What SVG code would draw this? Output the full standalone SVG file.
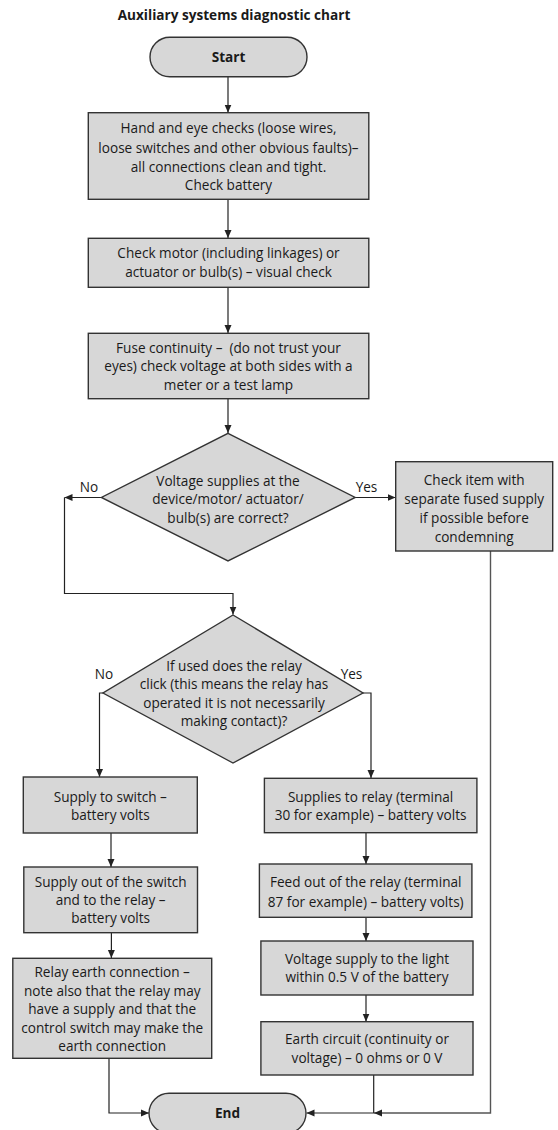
<svg xmlns="http://www.w3.org/2000/svg" width="558" height="1130" viewBox="0 0 558 1130">
<style>
text{font-family:"Open Sans","Noto Sans","Liberation Sans",sans-serif;font-size:13.6px;fill:#1a1a1a;text-anchor:middle}
.b{font-weight:bold}
.box{fill:#d7d7d7;stroke:#333;stroke-width:1.4}
.c{fill:none;stroke:#222;stroke-width:1.2}
.g{fill:none;stroke:#555;stroke-width:1.4}
</style>
<defs>
<marker id="ah" markerWidth="8" markerHeight="8" refX="8" refY="4" orient="auto" markerUnits="userSpaceOnUse"><path d="M0,0.5 L8,4 L0,7.5 z" fill="#222"/></marker>
</defs>
<text class="b" x="234" y="20">Auxiliary systems diagnostic chart</text>

<g id="connectors">
<path class="c" d="M228,77 V112.5" marker-end="url(#ah)"/>
<path class="c" d="M228,199 V238" marker-end="url(#ah)"/>
<path class="c" d="M228,287 V333" marker-end="url(#ah)"/>
<path class="c" d="M228,399 V433" marker-end="url(#ah)"/>
<path class="c" d="M101.5,497.5 H64.5" marker-end="url(#ah)"/>
<path class="c" d="M64.5,497.5 V593.5 H233 V614.5" marker-end="url(#ah)"/>
<path class="c" d="M355,497.5 H395.5" marker-end="url(#ah)"/>
<path class="g" d="M490.5,551 V1113 H374" marker-end="url(#ah)"/>
<path class="c" d="M374,1113 H306.5" marker-end="url(#ah)"/>
<path class="c" d="M373.7,1075 V1113"/>
<path class="c" d="M103,693 H99.5 V777" marker-end="url(#ah)"/>
<path class="c" d="M363,693 H371 V778" marker-end="url(#ah)"/>
<path class="c" d="M111,833 V867" marker-end="url(#ah)"/>
<path class="c" d="M111.4,933 V958" marker-end="url(#ah)"/>
<path class="c" d="M366,833 V864" marker-end="url(#ah)"/>
<path class="c" d="M366,917 V941" marker-end="url(#ah)"/>
<path class="c" d="M366,995 V1021.5" marker-end="url(#ah)"/>
<path class="c" d="M109,1058 V1113 H149" marker-end="url(#ah)"/>
</g>

<g id="start">
<rect class="box" x="150" y="37.3" width="157" height="39.5" rx="19.75"/>
<text class="b" x="228.5" y="61.5">Start</text>
</g>

<g id="n1">
<rect class="box" x="88.3" y="112.7" width="280.5" height="86.6"/>
<text x="228.5" y="133">Hand and eye checks (loose wires,</text>
<text x="228.5" y="152.5">loose switches and other obvious faults)–</text>
<text x="228.5" y="171.5">all connections clean and tight.</text>
<text x="228.5" y="190">Check battery</text>
</g>

<g id="n2">
<rect class="box" x="88.3" y="238.3" width="280.5" height="49"/>
<text x="228.5" y="258">Check motor (including linkages) or</text>
<text x="228.5" y="276.5">actuator or bulb(s) – visual check</text>
</g>

<g id="n3">
<rect class="box" x="88.3" y="333.3" width="280.5" height="65.4"/>
<text x="228.5" y="352.5">Fuse continuity –&#160; (do not trust your</text>
<text x="228.5" y="371">eyes) check voltage at both sides with a</text>
<text x="228.5" y="390">meter or a test lamp</text>
</g>

<g id="d1">
<polygon class="box" points="228,433.3 355.2,497.5 228,561 101.4,497.5"/>
<text x="228" y="486">Voltage supplies at the</text>
<text x="228" y="504.3">device/motor/ actuator/</text>
<text x="228" y="523.3">bulb(s) are correct?</text>
<text x="89" y="492">No</text>
<text x="366.5" y="492">Yes</text>
</g>

<g id="n4">
<rect class="box" x="395.7" y="461.7" width="157" height="89.3"/>
<text x="474.2" y="485">Check item with</text>
<text x="474.2" y="504.3">separate fused supply</text>
<text x="474.2" y="522.7">if possible before</text>
<text x="474.2" y="541.7">condemning</text>
</g>

<g id="d2">
<polygon class="box" points="233,615 363,693 233,763 103,693"/>
<text x="234" y="671">If used does the relay</text>
<text x="234" y="689">click (this means the relay has</text>
<text x="234" y="707.7">operated it is not necessarily</text>
<text x="234" y="726">making contact)?</text>
<text x="104" y="679">No</text>
<text x="351.5" y="679">Yes</text>
</g>

<g id="n5">
<rect class="box" x="23.3" y="777" width="174" height="56"/>
<text x="110.3" y="802">Supply to switch –</text>
<text x="110.3" y="820">battery volts</text>
</g>

<g id="n6">
<rect class="box" x="264.4" y="778.3" width="212.5" height="54.4"/>
<text x="370.6" y="802.3">Supplies to relay (terminal</text>
<text x="370.6" y="820">30 for example) – battery volts</text>
</g>

<g id="n7">
<rect class="box" x="23.8" y="867" width="173.7" height="65.7"/>
<text x="110.7" y="886.7">Supply out of the switch</text>
<text x="110.7" y="905">and to the relay –</text>
<text x="110.7" y="923.3">battery volts</text>
</g>

<g id="n8">
<rect class="box" x="12.8" y="958.3" width="198.9" height="100"/>
<text x="112.2" y="976.7">Relay earth connection –</text>
<text x="112.2" y="995.7">note also that the relay may</text>
<text x="112.2" y="1014.3">have a supply and that the</text>
<text x="112.2" y="1032.7">control switch may make the</text>
<text x="112.2" y="1051">earth connection</text>
</g>

<g id="n9">
<rect class="box" x="259.4" y="864" width="212.5" height="53.3"/>
<text x="365.7" y="886.7">Feed out of the relay (terminal</text>
<text x="365.7" y="906.7">87 for example) – battery volts)</text>
</g>

<g id="n10">
<rect class="box" x="260.9" y="941" width="212.1" height="54"/>
<text x="367" y="964">Voltage supply to the light</text>
<text x="367" y="981.7">within 0.5 V of the battery</text>
</g>

<g id="n11">
<rect class="box" x="260.9" y="1021.7" width="212.1" height="53.3"/>
<text x="367" y="1044">Earth circuit (continuity or</text>
<text x="367" y="1062.7">voltage) – 0 ohms or 0 V</text>
</g>

<g id="end">
<rect class="box" x="149" y="1093.3" width="157" height="40" rx="20"/>
<text class="b" x="227.5" y="1118">End</text>
</g>
</svg>
